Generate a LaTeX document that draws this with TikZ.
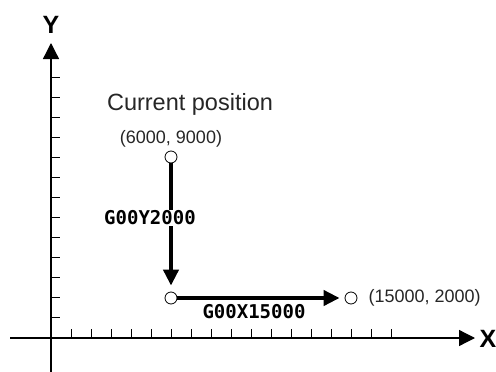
\documentclass[tikz,border=0pt]{standalone}
\usepackage{fontspec}
\setmainfont{Liberation Sans}
\newfontfamily\codefont{DejaVu Sans Mono}
\usetikzlibrary{arrows.meta}
\begin{document}
\begin{tikzpicture}[x=1pt,y=-1pt,
  axis/.style={line width=1.3pt,-{Triangle[length=16pt,width=16pt]}},
  tick/.style={line width=0.8pt},
  move/.style={line width=4pt,-{Triangle[length=16pt,width=15pt]}},
  pt/.style={circle,draw,line width=0.8pt,fill=white,minimum size=12pt,inner sep=0pt},
  code/.style={font=\codefont\bfseries\fontsize{19}{19}\selectfont,inner sep=1pt},
  lbl/.style={font=\fontsize{18}{18}\selectfont,text=black!85},
  axlbl/.style={font=\bfseries\fontsize{25}{25}\selectfont}]
\useasboundingbox (0,0) rectangle (496,372);
% axes
\coordinate (ybot) at (51,372);
\coordinate (ytop) at (51,43);
\coordinate (xleft) at (10,338);
\coordinate (xright) at (475,338);
\draw[axis] (ybot) -- (ytop);
\draw[axis] (xleft) -- (xright);
\foreach \y in {77,97,...,317} \draw[tick] (51,\y) -- (60,\y);
\foreach \x in {71,91,...,391} \draw[tick] (\x,338) -- (\x,329);
\node[axlbl] (ylab) at (51,25) {Y};
\node[axlbl] (xlab) at (488,339) {X};
% points
\node[pt] (p1) at (171,157) {};
\node[pt] (p2) at (171,298) {};
\node[pt] (p3) at (351,298) {};
\draw[move,shorten >=6pt] (p1.south) -- (p2.north);
\draw[move,shorten >=5pt] (p2.east) -- (p3.west);
\node[code,fill=white] (c1) at (150,218) {G00Y2000};
\node[code] (c2) at (254,312) {G00X15000};
\node[lbl,font=\fontsize{23.5}{23.5}\selectfont] (cur) at (190,104) {Current position};
\node[lbl] (t1) at (171,139) {(6000, 9000)};
\node[lbl,anchor=west] (t2) at (365,298) {(15000, 2000)};
\end{tikzpicture}
\end{document}
